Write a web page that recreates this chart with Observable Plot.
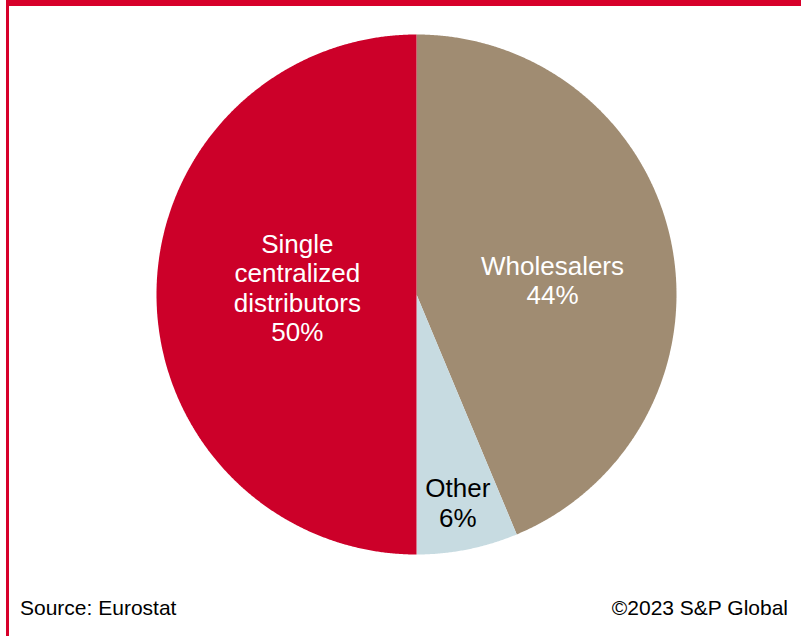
<!DOCTYPE html>
<html>
<head>
<meta charset="utf-8">
<script src="https://cdn.jsdelivr.net/npm/d3@7"></script>
<script src="https://cdn.jsdelivr.net/npm/@observablehq/plot@0.6"></script>
<style>
  html, body { margin: 0; padding: 0; background: #fff; }
  body { width: 801px; height: 636px; position: relative; overflow: hidden; font-family: "Liberation Sans", Arial, sans-serif; }
  #frame { position: absolute; left: 6px; top: 0; width: 795px; height: 636px; border-top: 6px solid #D7002A; border-left: 3px solid #D7002A; box-sizing: border-box; }
  #chart { position: absolute; left: 0; top: 0; }
  .foot { position: absolute; top: 596px; font-size: 21px; line-height: 24px; color: #000; }
  #src { left: 20px; }
  #copy { right: 13px; }
</style>
</head>
<body>
<div id="frame"></div>
<div id="chart"></div>
<div class="foot" id="src">Source: Eurostat</div>
<div class="foot" id="copy">©2023 S&amp;P Global</div>
<script>
// Data (clockwise from 12 o'clock); slice sizes, labels show rounded %
const categories = ["Wholesalers", "Other", "Single centralized distributors"];
const labelLines = ["Wholesalers", "Other", "Single\ncentralized\ndistributors"];
const shares = [43.7, 6.3, 50];
const colors = ["#A08C72", "#C7DBE1", "#CC0029"];
const textColors = ["#ffffff", "#000000", "#ffffff"];
// label placement (layout options): fraction of radius, and angular nudge in degrees
const labelRadius = [0.526, 0.815, 0.459];
const labelNudge = [5.3, 0.1, 3.4];

const pie = d3.pie().sort(null).value(d => d)(shares);

// Build slice outlines from the pie angles (angle measured clockwise from top)
const slicePoints = [];
pie.forEach((p, i) => {
  const n = Math.max(4, Math.ceil((p.endAngle - p.startAngle) / 0.005));
  slicePoints.push({cat: categories[i], x: 0, y: 0});
  for (let k = 0; k <= n; k++) {
    const a = p.startAngle + (p.endAngle - p.startAngle) * k / n;
    slicePoints.push({cat: categories[i], x: Math.sin(a), y: Math.cos(a)});
  }
  slicePoints.push({cat: categories[i], x: 0, y: 0});
});

const labels = pie.map((p, i) => {
  const a = (p.startAngle + p.endAngle) / 2 + labelNudge[i] * Math.PI / 180;
  return {
    cat: categories[i],
    text: labelLines[i] + "\n" + Math.round(shares[i]) + "%",
    x: Math.sin(a) * labelRadius[i],
    y: Math.cos(a) * labelRadius[i],
    color: textColors[i]
  };
});

const chart = Plot.plot({
  width: 801,
  height: 580,
  marginLeft: 156,
  marginRight: 125,
  marginTop: 34,
  marginBottom: 26,
  x: {domain: [-1, 1], axis: null},
  y: {domain: [-1, 1], axis: null},
  color: {domain: categories, range: colors},
  style: {fontFamily: "'Liberation Sans', Arial, sans-serif", background: "transparent"},
  marks: [
    Plot.line(slicePoints, {x: "x", y: "y", z: "cat", fill: "cat", stroke: null, curve: "linear-closed"}),
    Plot.text(labels, {x: "x", y: "y", text: "text", fill: "color", fontSize: 26, lineHeight: 1.135, textAnchor: "middle"})
  ]
});
document.getElementById("chart").appendChild(chart);
</script>
</body>
</html>
